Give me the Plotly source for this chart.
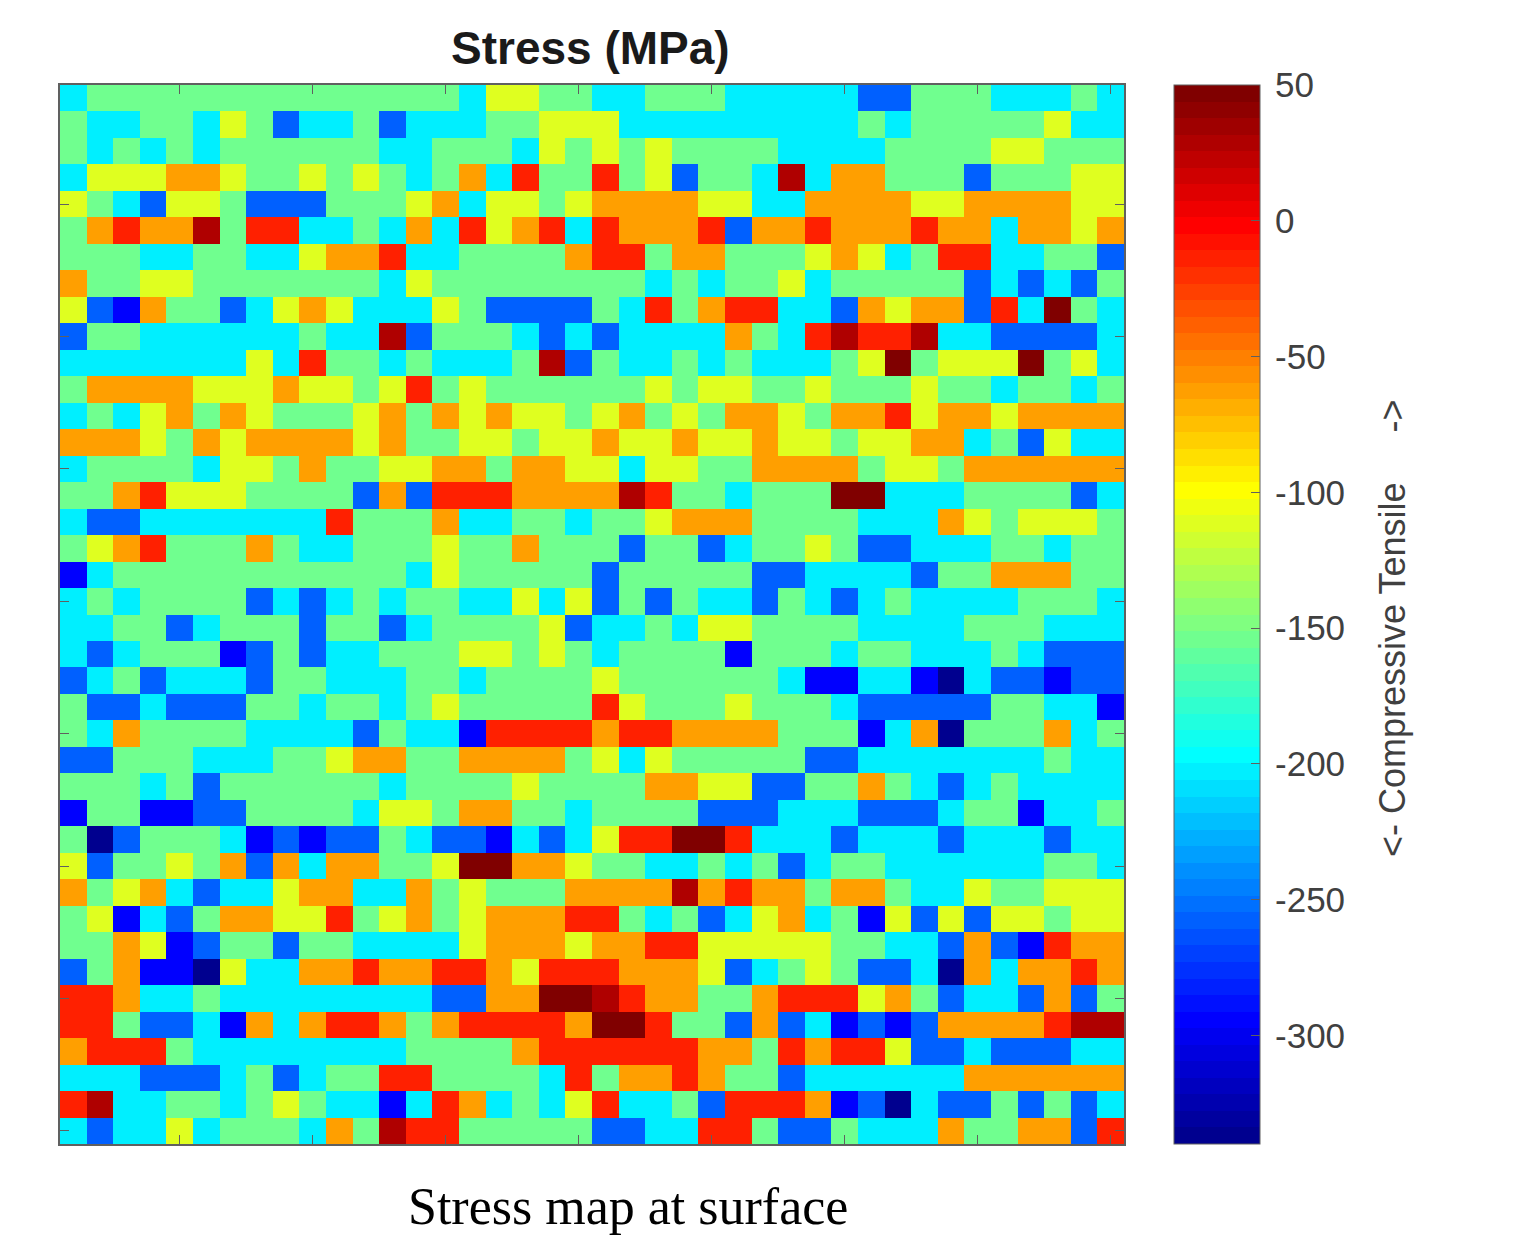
import plotly.graph_objects as go

# Stress values (MPa) of the distinct colour levels seen in the map
level_values = {
    "N": -338, "B": -294, "b": -258, "c": -203, "g": -154,
    "y": -111, "o": -63, "r": -14, "d": 28, "m": 50,
}

# Each row, top to bottom, as level codes
map_rows = [
    "c gggggggggggggg c yy gg cc ggg ccccc bb ggg ccc g c",
    "g cc gg c y g b cc g b ccc gg yy y ccccccccc g c ggggg y cc",
    "g c g c g c gggggg cc ggg c y g y g y gggg cccc gggg yy ggg",
    "c yyy oo y gg y g y g c g o c r gg r g y b gg c d c oo ggg b ggg yy",
    "y g c b yy g bbb ggg y o c yy g y oooo yy cc oooo yy oooo yy",
    "g o r oo d g rr cc g c o c r y o r c r ooo r b oo r ooo r oo c oo y o",
    "ggg cc gg cc y oo r cc gggg o rr g oo ggg y o y c g rr cc gg b",
    "o gg yy ggggggg c y gggggg gg c g c gg y c ggggg b c b c b g",
    "y b B o gg b c y o y ccc y g bbbb g c r g o rr cc b o y oo b r c m g c",
    "b gg cccccc g cc d b ggg c b c b cccc o g c r d rr d cc bbbb c",
    "ccccccc y c r gg c g ccc g d b g cc g c g ccc g y m g yyy m g y c",
    "g oooo yyy o yy g y r g y gggg gg y g yy gg y ggg y gg c gg c g",
    "c g c y o g o y ggg y o g o y o yy g y o g y g oo y g oo r y oo y oooo",
    "ooo y g o y oooo y o gg yy g yy o yy o yy o yy g yy oo c g b y cc",
    "c gggg c yy g o gg yy oo g oo y y c yy gg oooo g yy g oooooo",
    "gg o r yyy gggg b o b rrr ooo o d r gg c ggg mm ccc gggg b c",
    "c bb ccccccc r ggg o cc gg c gg y ooo gggg ccc o y g yyy g",
    "g y o r ggg o g cc ggg y gg o gg g b gg b c gg y g bb ccc gg c gg",
    "B c ggggggggggg c y ggggg b ggggg bb cccc b gg ooo gg",
    "c g c gggg b c b c g c gg cc y c y b g b g cc b g c b c g cccc ggg c",
    "cc gg b c ggg b gg b c gggg y b cc g c yy gggg cccc ggg ccc",
    "c b c ggg B b g b cc ggg yy g y g c gggg B ggg c gg ccc g c bbb",
    "b c g b ccc b gg ccc gg c gggg y gggggg c BB cc B N c bb B bb",
    "g bb c bbb gg c gg c g y ggggg r y ggg y ggg c bbbbb gg cc B",
    "g c o gggg cccc b g cc B rrrr o rr oooo ggg B c o N ggg o c g",
    "bb ggg ccc gg y oo gg oooo g y c y ggggg bb ccccccc g cc",
    "ggg c g b gggggg c gggg y gg gg oo yy bb gg o g c b c g cccc",
    "B gg BB bb gggg c yy g oo gg c gggg bbb ccc bbb c gg B cc g",
    "g N b ggg c B b B bb g c bb B c b c y rr mm r ccc b ccc b ccc b cc",
    "y b gg y g o b o c oo gg y mm oo y gg cc g c g b c gg cccccc gg c",
    "o g y o c b cc y oo cc o g y ggg o ooo d o r oo g oo g cc y gg yyy",
    "g y B c b g oo yy r g y o g y ooo r r g c g b c y o c g B y b y b yy g yy",
    "gg o y B b gg b gg cccc y ooo y oo rr yyyyy gg cc b o b B r oo",
    "b g o BB N y cc oo r oo rr o y rr r ooo y b c g y g bb c N o c oo r o",
    "rr o cc g cccccccc bb oo mm d r oo gg o rrr y o g b cc b o b g",
    "rr g bb c B o c o rr o g o rrrr o mm r gg b o b c B b B b oooo r dd",
    "o rrr g cccccccc gggg o rr rrrr oo g r o rr y bb c bbb cc",
    "ccc bbb c g b c gg rr gggg c r g oo r o gg b cccccc oooooo",
    "r d cc gg c g y g cc B c r o c g c y r cc g b rrr o B b N c bb g b g b c",
    "c b cc y c ggg c o g d rr ggggg bb cc rr g bb g ccc o gg oo b r",
]

tick_positions = [5, 10, 15, 20, 25, 30, 35, 40]
colorbar_ticks = [50, 0, -50, -100, -150, -200, -250, -300]
colorbar_labels = ["50", "0", "-50", "-100", "-150", "-200", "-250", "-300"]
stress_min, stress_max = -340, 50

z = [[level_values[ch] for ch in row.replace(" ", "")] for row in map_rows]
n_rows, n_cols = len(z), len(z[0])
assert n_rows == 40 and all(len(r) == 40 for r in z)


def jet(t):
    def ramp(v):
        return int(round(255 * max(0.0, min(1.0, v))))
    return f"rgb({ramp(min(4*t-1.5, -4*t+4.5))},{ramp(min(4*t-0.5, -4*t+3.5))},{ramp(min(4*t+0.5, -4*t+2.5))})"


n_steps = 64
jet_scale = []
for i in range(n_steps):
    col = jet((i + 1) / n_steps)
    jet_scale += [[i / n_steps, col], [(i + 1) / n_steps, col]]

W, H = 1513, 1237
axis_col = "#606060"
text_col = "#404040"

fig = go.Figure(go.Heatmap(
    z=z,
    x=list(range(1, n_cols + 1)),
    y=list(range(1, n_rows + 1)),
    zmin=stress_min, zmax=stress_max,
    colorscale=jet_scale,
    colorbar=dict(
        x=1174 / W, xanchor="left", xref="container", xpad=0,
        y=1 - 85 / H, yanchor="top", yref="container", ypad=0,
        len=1059 / H, lenmode="fraction",
        thickness=86, thicknessmode="pixels",
        outlinecolor=axis_col, outlinewidth=1,
        tickmode="array", tickvals=colorbar_ticks,
        ticktext=["\u2009" + label for label in colorbar_labels],
        ticks="inside", ticklen=9, tickcolor=axis_col, tickwidth=1,
        tickfont=dict(family="Liberation Sans", size=35, color=text_col),
        ticklabelposition="outside",
    ),
))

axis_common = dict(
    tickmode="array", tickvals=tick_positions, showticklabels=False,
    ticks="inside", ticklen=9, tickwidth=1, tickcolor=axis_col,
    showline=True, linecolor=axis_col, linewidth=1.5, mirror="allticks",
    showgrid=False, zeroline=False,
)
fig.update_xaxes(range=[0.5, n_cols + 0.5], domain=[60 / W, 1124 / W], **axis_common)
fig.update_yaxes(range=[n_rows + 0.5, 0.5], domain=[1 - 1144 / H, 1 - 85 / H], **axis_common)

fig.update_layout(
    width=W, height=H,
    margin=dict(l=0, r=0, t=0, b=0, autoexpand=False),
    paper_bgcolor="white", plot_bgcolor="white",
    annotations=[
        dict(text="<b>Stress (MPa)</b>", xref="paper", yref="paper",
             x=590 / W, y=1 - 48 / H, showarrow=False, xanchor="center", yanchor="middle",
             font=dict(family="Liberation Sans", size=46, color="#1a1a1a")),
        dict(text="Stress map at surface", xref="paper", yref="paper",
             x=628 / W, y=1 - 1206 / H, showarrow=False, xanchor="center", yanchor="middle",
             font=dict(family="Liberation Serif", size=52, color="black")),
        dict(text="<-\u00a0Compressive Tensile\u00a0\u00a0\u00a0\u00a0\u00a0->", xref="paper", yref="paper",
             x=1392 / W, y=1 - 628 / H, showarrow=False, textangle=-90,
             xanchor="center", yanchor="middle",
             font=dict(family="Liberation Sans", size=36, color=text_col)),
    ],
)

fig.write_html("out.html", config={"displayModeBar": False},
               post_script="document.body.style.margin='0';")
